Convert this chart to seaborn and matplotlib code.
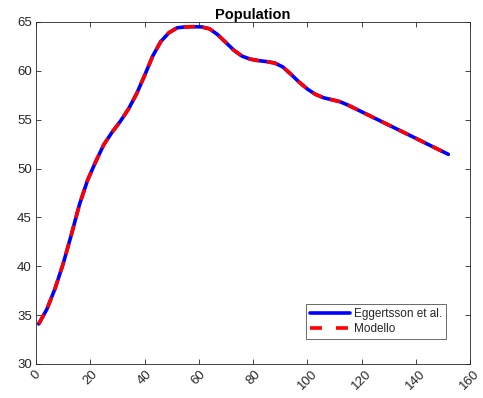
import matplotlib
matplotlib.use("Agg")
import matplotlib.pyplot as plt
import seaborn as sns
import pandas as pd

# Quarter index and population level for both series
quarters = [1, 4, 7, 10, 13, 16, 19, 22, 25, 28, 31, 34, 37, 40, 43, 46, 49, 52,
            55, 58, 61, 64, 67, 70, 73, 76, 79, 82, 85, 88, 91, 94, 97, 100, 103,
            106, 109, 112, 115, 120, 125, 130, 135, 140, 145, 152]
eggertsson = [34.1, 35.6, 37.7, 40.25, 43.2, 46.3, 48.8, 50.7, 52.45, 53.7, 54.8,
              56.05, 57.6, 59.5, 61.5, 63.0, 63.9, 64.4, 64.5, 64.52, 64.5, 64.3,
              63.7, 62.9, 62.1, 61.5, 61.2, 61.05, 60.95, 60.8, 60.4, 59.65, 58.85,
              58.15, 57.6, 57.25, 57.05, 56.85, 56.5, 55.82, 55.14, 54.46, 53.78,
              53.1, 52.41, 51.46]
modello = list(eggertsson)

series_names = ["Eggertsson et al.", "Modello"]
x_ticks = [0, 20, 40, 60, 80, 100, 120, 140, 160]
y_ticks = [30, 35, 40, 45, 50, 55, 60, 65]

sns.set_style("white")
plt.rcParams["font.family"] = ["Liberation Sans", "DejaVu Sans"]

df = pd.DataFrame({
    "t": quarters + quarters,
    "pop": eggertsson + modello,
    "series": [series_names[0]] * len(quarters) + [series_names[1]] * len(quarters),
})

fig = plt.figure(figsize=(4.83, 3.98), dpi=100)
ax = fig.add_axes([36 / 483, 1 - 364 / 398, 434 / 483, 342 / 398])

sns.lineplot(data=df, x="t", y="pop", hue="series", style="series",
             palette={series_names[0]: "#0000ff", series_names[1]: "#ff0000"},
             dashes={series_names[0]: "", series_names[1]: (3.0, 2.2)},
             linewidth=2.6, ax=ax, legend=True)

ax.set_xlim(0, 160)
ax.set_ylim(30, 65)
ax.set_xticks(x_ticks)
ax.set_yticks(y_ticks)
ax.set_xticklabels([str(v) for v in x_ticks], rotation=45, ha="center",
                   va="top", rotation_mode="default")
ax.set_xlabel("")
ax.set_ylabel("")
ax.set_title("Population", fontsize=10.5, fontweight="bold", color="#000000", pad=2)

ax.tick_params(direction="in", length=3.5, width=0.6, colors="#262626",
               labelsize=9.5, top=True, right=True, bottom=True, left=True,
               labelcolor="#262626", pad=3)
for s in ax.spines.values():
    s.set_visible(True)
    s.set_color("#262626")
    s.set_linewidth(0.6)

leg = ax.legend(loc="lower left", bbox_to_anchor=(0.622, 0.073), borderaxespad=0,
                fontsize=8.5, frameon=True, fancybox=False, handlelength=3.4,
                handletextpad=0.3, borderpad=0.35, labelspacing=0.25)
leg.get_frame().set_edgecolor("#262626")
leg.get_frame().set_linewidth(0.6)
handles = leg.get_lines()
for line in handles:
    line.set_linewidth(2.6)
# dashed handle: two dashes with a gap between them
handles[1].set_dashes((3.3, 3.9))

fig.savefig("out.png", dpi=100)
